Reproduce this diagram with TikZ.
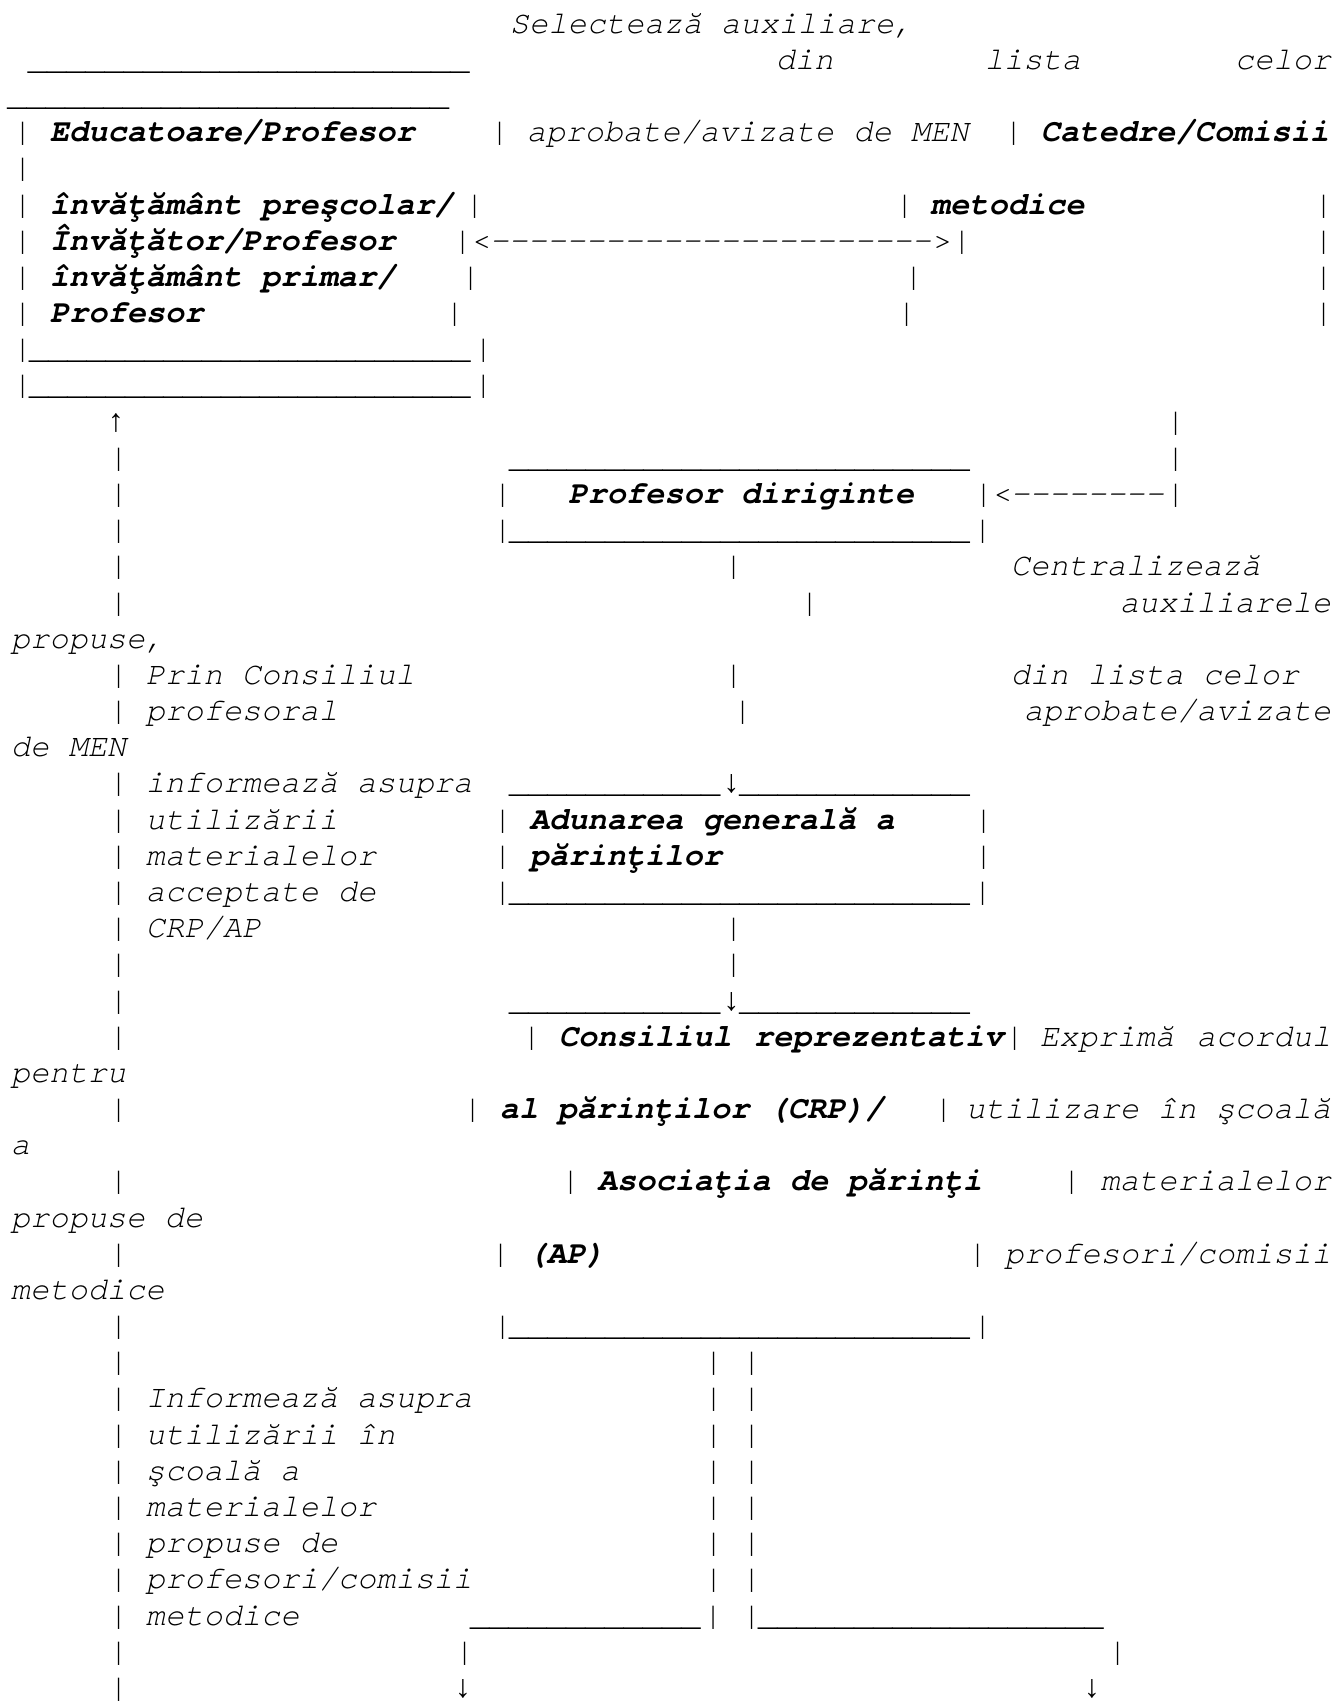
\documentclass[tikz,border=0pt]{standalone}
\usepackage{fontspec}
\setmonofont{TeX Gyre Cursor}
\newfontfamily\arrowfont{Liberation Mono}
\usepackage{tikz}

\newcommand\underrun[1]{\foreach\k in {1,...,#1}{\_}}

\begin{document}
\begin{tikzpicture}[x=1pt, y=-36.18pt,
		every node/.style={inner sep=0, outer sep=0, font=\fontsize{32}{36}\selectfont\ttfamily\itshape},
		txt/.style={anchor=base west},
		rtxt/.style={anchor=base east},
		pipe/.style={anchor=base},
		bold/.style={font=\fontsize{32}{36}\selectfont\ttfamily\itshape\bfseries}]
		\useasboundingbox (0,0.083) rectangle (1338,47.293);
		
		\node[txt] (sel) at (510,1) {Selectează auxiliare,};
		\node[txt] (top1) at (29.4,2) {\underrun{23}};
		\node[txt] (din1) at (776,2) {din};
		\node[txt] (lista1) at (985,2) {lista};
		\node[rtxt] (celor1) at (1331,2) {celor};
		\node[txt] (top2) at (9,3) {\underrun{23}};
		
		% caseta educatoare / catedre
		\node[pipe] (p4a) at (21,4) {|};
		\node[txt,bold] (educ1) at (50,4) {Educatoare/Profesor};
		\node[pipe] (p4b) at (498,4) {|};
		\node[txt] (aprob1) at (527,4) {aprobate/avizate de MEN};
		\node[pipe] (p4c) at (1012,4) {|};
		\node[txt,bold] (cat1) at (1041,4) {Catedre/Comisii};
		\node[pipe] (p5a) at (21,5) {|};
		\node[pipe] (p6a) at (21,6) {|};
		\node[txt,bold] (educ2) at (50,6) {învăţământ preşcolar/};
		\node[pipe] (p6b) at (473,6) {|};
		\node[pipe] (p6c) at (903,6) {|};
		\node[txt,bold] (cat2) at (931,6) {metodice};
		\node[pipe] (p6d) at (1322,6) {|};
		\node[pipe] (p7a) at (21,7) {|};
		\node[txt,bold] (educ3) at (50,7) {Învăţător/Profesor};
		\node[txt] (arr7) at (451.4,7) {|<----------------------->|};
		\node[pipe] (p7d) at (1322,7) {|};
		\node[pipe] (p8a) at (21,8) {|};
		\node[txt,bold] (educ4) at (50,8) {învăţământ primar/};
		\node[pipe] (p8b) at (469,8) {|};
		\node[pipe] (p8c) at (912,8) {|};
		\node[pipe] (p8d) at (1322,8) {|};
		\node[pipe] (p9a) at (21,9) {|};
		\node[txt,bold] (educ5) at (50,9) {Profesor};
		\node[pipe] (p9b) at (453,9) {|};
		\node[pipe] (p9c) at (905,9) {|};
		\node[pipe] (p9d) at (1322,9) {|};
		\node[txt] (bot10) at (11.4,10) {|\underrun{23}|};
		\node[txt] (bot11) at (11.4,11) {|\underrun{23}|};
		
		% profesor diriginte
		\node[pipe] (up12) at (116,12) {\arrowfont ↑};
		\node[pipe] (p12b) at (1174,12) {|};
		\node[pipe] (p13a) at (117,13) {|};
		\node[txt] (top13) at (510.6,13) {\underrun{24}};
		\node[pipe] (p13b) at (1174,13) {|};
		\node[pipe] (p14a) at (117,14) {|};
		\node[pipe] (p14b) at (501,14) {|};
		\node[txt,bold] (dirig) at (568.4,14) {Profesor diriginte};
		\node[txt] (arr14) at (972.4,14) {|<--------|};
		\node[pipe] (p15a) at (117,15) {|};
		\node[txt] (bot15) at (491.4,15) {|\underrun{24}|};
		\node[pipe] (p16a) at (117,16) {|};
		\node[pipe] (p16b) at (732,16) {|};
		\node[txt] (centr1) at (1011,16) {Centralizează};
		\node[pipe] (p17a) at (117,17) {|};
		\node[pipe] (p17b) at (808,17) {|};
		\node[rtxt] (centr2) at (1331,17) {auxiliarele};
		\node[txt] (centr3) at (11,18) {propuse,};
		\node[pipe] (p19a) at (117,19) {|};
		\node[txt] (cons1) at (146,19) {Prin Consiliul};
		\node[pipe] (p19b) at (732,19) {|};
		\node[txt] (centr4) at (1011,19) {din lista celor};
		\node[pipe] (p20a) at (117,20) {|};
		\node[txt] (cons2) at (146,20) {profesoral};
		\node[pipe] (p20b) at (741,20) {|};
		\node[rtxt] (centr5) at (1331,20) {aprobate/avizate};
		\node[txt] (centr6) at (11,21) {de MEN};
		
		% adunarea generala
		\node[pipe] (p22a) at (117,22) {|};
		\node[txt] (cons3) at (146,22) {informează asupra};
		\node[txt] (top22) at (510.6,22) {\underrun{11}{\arrowfont ↓}\underrun{12}};
		\node[pipe] (p23a) at (117,23) {|};
		\node[txt] (cons4) at (146,23) {utilizării};
		\node[pipe] (p23b) at (501,23) {|};
		\node[txt,bold] (adun1) at (530,23) {Adunarea generală a};
		\node[pipe] (p23c) at (982,23) {|};
		\node[pipe] (p24a) at (117,24) {|};
		\node[txt] (cons5) at (146,24) {materialelor};
		\node[pipe] (p24b) at (501,24) {|};
		\node[txt,bold] (adun2) at (530,24) {părinţilor};
		\node[pipe] (p24c) at (982,24) {|};
		\node[pipe] (p25a) at (117,25) {|};
		\node[txt] (cons6) at (146,25) {acceptate de};
		\node[txt] (bot25) at (491.4,25) {|\underrun{24}|};
		\node[pipe] (p26a) at (117,26) {|};
		\node[txt] (cons7) at (146,26) {CRP/AP};
		\node[pipe] (p26b) at (732,26) {|};
		\node[pipe] (p27a) at (117,27) {|};
		\node[pipe] (p27b) at (732,27) {|};
		
		% consiliul reprezentativ
		\node[pipe] (p28a) at (117,28) {|};
		\node[txt] (top28) at (510.6,28) {\underrun{11}{\arrowfont ↓}\underrun{12}};
		\node[pipe] (p29a) at (117,29) {|};
		\node[pipe] (p29b) at (530,29) {|};
		\node[txt,bold] (crp1) at (559,29) {Consiliul};
		\node[txt,bold] (crp2) at (754,29) {reprezentativ};
		\node[pipe] (p29c) at (1013,29) {|};
		\node[txt] (acord1) at (1040,29) {Exprimă};
		\node[rtxt] (acord2) at (1331,29) {acordul};
		\node[txt] (acord3) at (11,30) {pentru};
		\node[pipe] (p31a) at (117,31) {|};
		\node[pipe] (p31b) at (471,31) {|};
		\node[txt,bold] (crp3) at (500,31) {al părinţilor (CRP)/};
		\node[pipe] (p31c) at (942,31) {|};
		\node[rtxt] (acord4) at (1331,31) {utilizare în şcoală};
		\node[txt] (acord5) at (11,32) {a};
		\node[pipe] (p33a) at (117,33) {|};
		\node[pipe] (p33b) at (569,33) {|};
		\node[txt,bold] (crp4) at (598,33) {Asociaţia de părinţi};
		\node[pipe] (p33c) at (1070,33) {|};
		\node[rtxt] (acord6) at (1331,33) {materialelor};
		\node[txt] (acord7) at (11,34) {propuse de};
		\node[pipe] (p35a) at (117,35) {|};
		\node[pipe] (p35b) at (499,35) {|};
		\node[txt,bold] (crp5) at (528,35) {(AP)};
		\node[pipe] (p35c) at (976,35) {|};
		\node[rtxt] (acord8) at (1331,35) {profesori/comisii};
		\node[txt] (acord9) at (11,36) {metodice};
		\node[pipe] (p37a) at (117,37) {|};
		\node[txt] (bot37) at (491.4,37) {|\underrun{24}|};
		
		% ramificare spre jos
		\node[pipe] (p38a) at (117,38) {|};
		\node[pipe] (p38b) at (712,38) {|};
		\node[pipe] (p38c) at (750,38) {|};
		\node[pipe] (p39a) at (117,39) {|};
		\node[txt] (inf1) at (146,39) {Informează asupra};
		\node[pipe] (p39b) at (712,39) {|};
		\node[pipe] (p39c) at (750,39) {|};
		\node[pipe] (p40a) at (117,40) {|};
		\node[txt] (inf2) at (146,40) {utilizării în};
		\node[pipe] (p40b) at (712,40) {|};
		\node[pipe] (p40c) at (750,40) {|};
		\node[pipe] (p41a) at (117,41) {|};
		\node[txt] (inf3) at (146,41) {şcoală a};
		\node[pipe] (p41b) at (712,41) {|};
		\node[pipe] (p41c) at (750,41) {|};
		\node[pipe] (p42a) at (117,42) {|};
		\node[txt] (inf4) at (146,42) {materialelor};
		\node[pipe] (p42b) at (712,42) {|};
		\node[pipe] (p42c) at (750,42) {|};
		\node[pipe] (p43a) at (117,43) {|};
		\node[txt] (inf5) at (146,43) {propuse de};
		\node[pipe] (p43b) at (712,43) {|};
		\node[pipe] (p43c) at (750,43) {|};
		\node[pipe] (p44a) at (117,44) {|};
		\node[txt] (inf6) at (146,44) {profesori/comisii};
		\node[pipe] (p44b) at (712,44) {|};
		\node[pipe] (p44c) at (750,44) {|};
		\node[pipe] (p45a) at (117,45) {|};
		\node[txt] (inf7) at (146,45) {metodice};
		\node[txt] (split45) at (471.6,45) {\underrun{12}| |\underrun{18}};
		\node[pipe] (p46a) at (117,46) {|};
		\node[pipe] (p46b) at (463,46) {|};
		\node[pipe] (p46c) at (1116,46) {|};
		\node[pipe] (p47a) at (117,47) {|};
		\node[pipe] (down47a) at (463,47) {\arrowfont ↓};
		\node[pipe] (down47b) at (1092,47) {\arrowfont ↓};
	\end{tikzpicture}
\end{document}
